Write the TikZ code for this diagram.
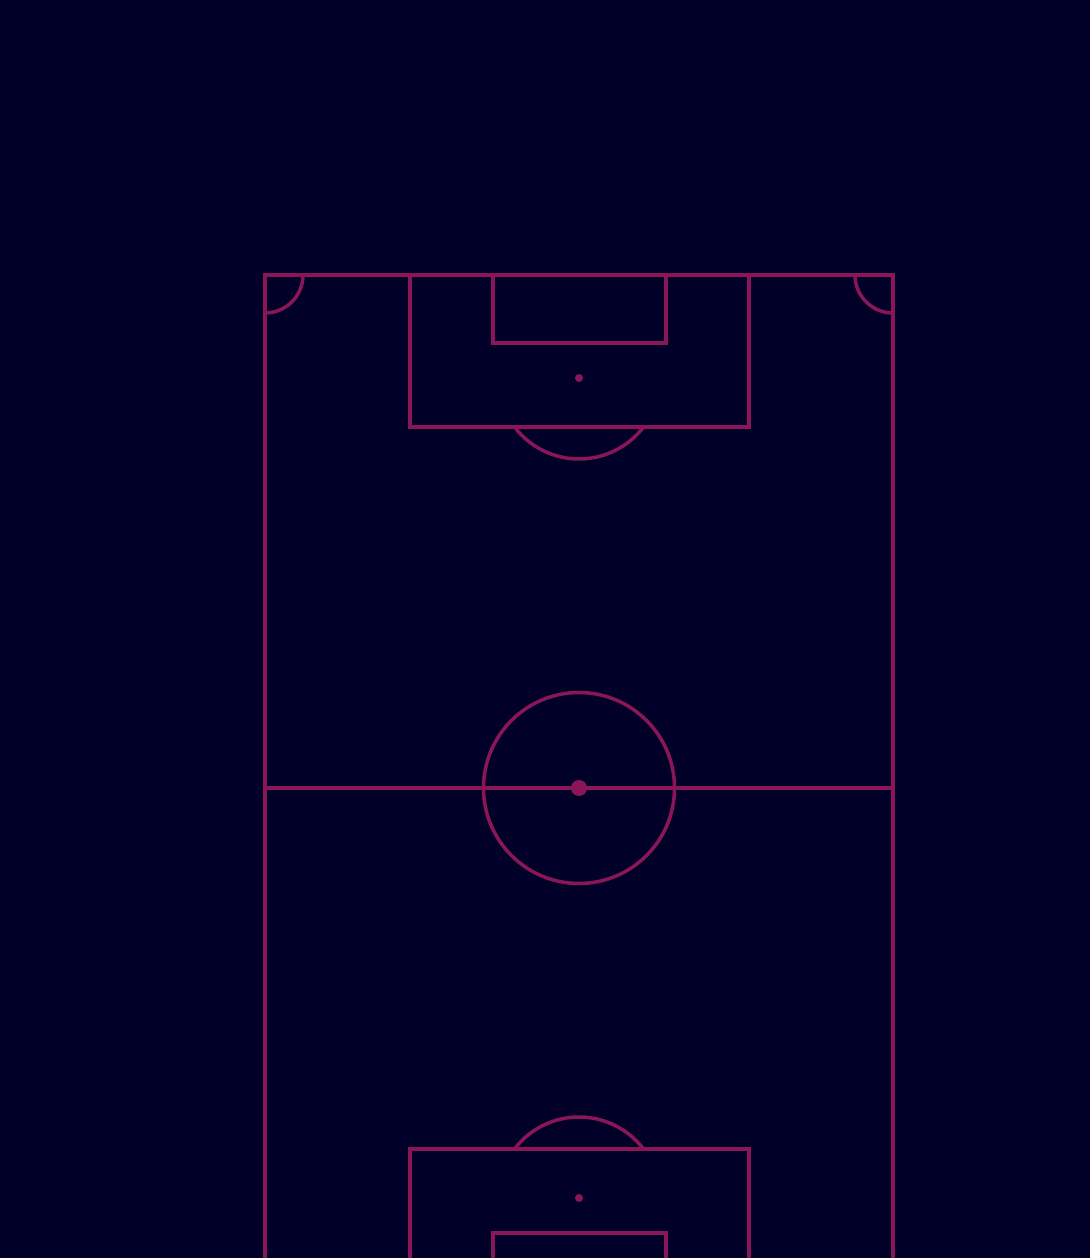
\documentclass[tikz,border=0pt]{standalone}
\definecolor{night}{RGB}{0,0,40}
\definecolor{lineplum}{RGB}{138,22,88}
\begin{document}
\begin{tikzpicture}[x=0.02cm, y=0.02cm,
    pitchline/.style={draw=lineplum, line width=0.07cm},
    spot/.style={fill=lineplum}]

            % background and frame
            \fill[night] (0,0) rectangle (1090,1258);
            \useasboundingbox (0,0) rectangle (1090,1258);
            \clip (0,0) rectangle (1090,1258);

            % touch lines and halfway line
            \draw[pitchline] (265,-43) rectangle (893,983);
            \draw[pitchline] (265,470) -- (893,470);

            % centre circle and spot
            \draw[pitchline] (579,470) circle (95.5);
            \fill[spot] (579,470) circle (8);

            % top penalty area
            \draw[pitchline] (410,983) -- (410,831) -- (749,831) -- (749,983);
            \draw[pitchline] (493,983) -- (493,915) -- (666,915) -- (666,983);
            \fill[spot] (579,880) circle (4);
            \draw[pitchline] (579,880) ++(217.2:81) arc (217.2:322.8:81);

            % bottom penalty area
            \draw[pitchline] (410,-43) -- (410,109) -- (749,109) -- (749,-43);
            \draw[pitchline] (493,-43) -- (493,25) -- (666,25) -- (666,-43);
            \fill[spot] (579,60) circle (4);
            \draw[pitchline] (579,60) ++(37.2:81) arc (37.2:142.8:81);

            % corner arcs
            \draw[pitchline] (303,983) arc (0:-90:38);
            \draw[pitchline] (855,983) arc (180:270:38);

\end{tikzpicture}
\end{document}
